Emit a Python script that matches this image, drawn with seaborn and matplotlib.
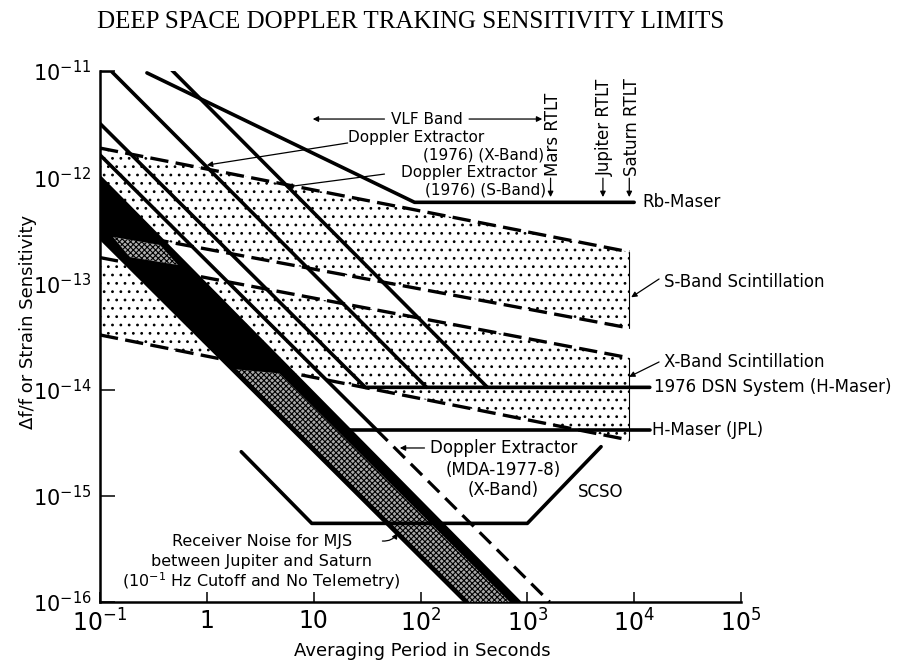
import matplotlib
matplotlib.use("Agg")
import matplotlib.pyplot as plt
import seaborn as sns

# ---- curves: averaging period tau (s) vs. fractional frequency sensitivity ----
rb_tau = [0.275, 88, 1.0e4]
rb_sens = [9.6e-12, 5.8e-13, 5.8e-13]

dex_x_tau = [0.1, 0.127, 114]
dex_x_sens = [1e-11, 1e-11, 1.05e-14]

dex_s_tau = [0.47, 423]
dex_s_sens = [1.02e-11, 1.05e-14]

dsn_tau = [0.1, 30.5, 1.4e4]
dsn_sens = [3.2e-12, 1.05e-14, 1.05e-14]

hmaser_tau = [21.5, 1.4e4]
hmaser_sens = [4.2e-15, 4.2e-15]

mda_tau = [0.1, 38.6, 1620]
mda_sens = [1.62e-12, 4.2e-15, 1e-16]

scso_tau = [2.1, 9.6, 1000, 4900]
scso_sens = [2.6e-15, 5.5e-16, 5.5e-16, 2.9e-15]

# scintillation bands
scint_tau = [0.1, 9.0e3]
sband_hi = [1.88e-12, 1.98e-13]
sband_lo = [3.24e-13, 3.8e-14]
xband_hi = [1.75e-13, 1.99e-14]
xband_lo = [3.27e-14, 3.35e-15]

# receiver noise band (MJS)
noise_hi_tau = [0.1, 842]
noise_hi_sens = [1e-12, 1e-16]
noise_lo_tau = [0.1, 269]
noise_lo_sens = [2.74e-13, 1e-16]
noise_grey_tau = [1.75, 269, 684, 4.8]
noise_grey_sens = [1.56e-14, 1e-16, 1e-16, 1.42e-14]
noise_patch_tau = [0.132, 0.364, 0.536, 0.19]
noise_patch_sens = [2.74e-13, 2.3e-13, 1.49e-13, 1.77e-13]

# round-trip light times
rtlt_names = ["Mars RTLT", "Jupiter RTLT", "Saturn RTLT"]
rtlt_tau = [1650, 5100, 9000]

xticks = [0.1, 1, 10, 1e2, 1e3, 1e4, 1e5]
xticklabels = ["$10^{-1}$", "1", "10", "$10^{2}$", "$10^{3}$", "$10^{4}$", "$10^{5}$"]
yticks = [1e-16, 1e-15, 1e-14, 1e-13, 1e-12, 1e-11]
yticklabels = ["$10^{-16}$", "$10^{-15}$", "$10^{-14}$", "$10^{-13}$", "$10^{-12}$", "$10^{-11}$"]

sns.set_theme(style="ticks")
plt.rcParams["font.family"] = ["DejaVu Sans"]
plt.rcParams["text.color"] = "black"
plt.rcParams["axes.labelcolor"] = "black"
plt.rcParams["hatch.linewidth"] = 0.8

fig = plt.figure(figsize=(9.16, 6.71), dpi=100)
ax = fig.add_axes([100 / 916, 1 - 602 / 671, 641 / 916, 531 / 671])
ax.set_xscale("log")
ax.set_yscale("log")
ax.set_xlim(0.1, 1e5)
ax.set_ylim(1e-16, 1e-11)

LW = 2.6


def curve(tau, sens, **kw):
    kw.setdefault("lw", LW)
    sns.lineplot(x=tau, y=sens, ax=ax, color="black", estimator=None,
                 sort=False, legend=False, **kw)


# dotted scintillation regions
for hi, lo in [(sband_hi, sband_lo), (xband_hi, xband_lo)]:
    ax.fill_between(scint_tau, lo, hi, facecolor="white", edgecolor="black",
                    hatch="..", linewidth=0, zorder=1)
    curve(scint_tau, hi, linestyle=(0, (5.5, 2.2)), lw=2.4, zorder=2)
    curve(scint_tau, lo, linestyle=(0, (5.5, 2.2)), lw=2.4, zorder=2)
    curve([scint_tau[1], scint_tau[1]], [hi[1], lo[1]], lw=0.8, zorder=2)

# receiver noise band
band_tau = noise_hi_tau + noise_lo_tau[::-1]
band_sens = noise_hi_sens + noise_lo_sens[::-1]
ax.fill(band_tau, band_sens, facecolor="black", edgecolor="none", zorder=3)
ax.fill(noise_grey_tau, noise_grey_sens, facecolor="#a8a8a8", edgecolor="black",
        hatch="xxxxxx", linewidth=0, zorder=3.1)
ax.fill(noise_patch_tau, noise_patch_sens, facecolor="#b0b0b0", edgecolor="black",
        hatch="xxxxxx", linewidth=0, zorder=3.1)
curve(noise_lo_tau, noise_lo_sens, lw=3.4, zorder=3.2)
curve(noise_hi_tau, noise_hi_sens, lw=2.5, zorder=3.2)

# solid limits
for tau, sens in [(rb_tau, rb_sens), (dex_x_tau, dex_x_sens),
                  (dex_s_tau, dex_s_sens), (dsn_tau, dsn_sens),
                  (hmaser_tau, hmaser_sens), (scso_tau, scso_sens)]:
    curve(tau, sens, zorder=4)
curve(mda_tau[:2], mda_sens[:2], zorder=4)
curve(mda_tau[1:], mda_sens[1:], linestyle=(0, (5, 2.6)), lw=2.3, zorder=4)

# axes styling
sns.despine(ax=ax)
for side in ("left", "bottom"):
    ax.spines[side].set_linewidth(1.8)
    ax.spines[side].set_color("black")
ax.set_xticks(xticks)
ax.set_xticklabels(xticklabels)
ax.set_yticks(yticks)
ax.set_yticklabels(yticklabels)
ax.minorticks_off()
ax.tick_params(axis="x", direction="in", length=7, width=1.1, labelsize=17,
               pad=5, colors="black")
ax.tick_params(axis="y", direction="in", length=11, width=1.1, labelsize=15,
               pad=6, colors="black")

TXT = dict(fontsize=12, color="black")
SMALL = dict(fontsize=11, color="black")
ARW = dict(arrowstyle="-|>", color="black", lw=0.9, mutation_scale=8,
           shrinkA=0, shrinkB=0)

# VLF band
ax.text(114, 3.53e-12, "VLF Band", ha="center", va="center", zorder=6, **SMALL)
ax.annotate("", xy=(9.8, 3.53e-12), xytext=(46, 3.53e-12), arrowprops=ARW)
ax.annotate("", xy=(1380, 3.53e-12), xytext=(285, 3.53e-12), arrowprops=ARW)

# Doppler extractor 1976 labels
ax.text(20.8, 2.39e-12, "Doppler Extractor", ha="left", va="center", **SMALL)
ax.text(1443, 1.62e-12, "(1976) (X-Band)", ha="right", va="center", **SMALL)
ax.text(1240, 1.11e-12, "Doppler Extractor", ha="right", va="center", **SMALL)
ax.text(1506, 7.58e-13, "(1976) (S-Band)", ha="right", va="center", **SMALL)
ax.annotate("", xy=(1.0, 1.3e-12), xytext=(20.8, 2.1e-12), arrowprops=ARW)
ax.annotate("", xy=(5.6, 8.1e-13), xytext=(46, 1.07e-12), arrowprops=ARW)

# RTLT markers
for name, tau in zip(rtlt_names, rtlt_tau):
    ax.text(tau * 1.05, 1.03e-12, name, rotation=90, ha="center", va="bottom",
            **TXT)
    ax.annotate("", xy=(tau, 6.5e-13), xytext=(tau, 9.8e-13), arrowprops=ARW)

# right-hand labels
ax.text(11900, 5.8e-13, "Rb-Maser", ha="left", va="center", **TXT)
ax.text(19000, 1.03e-13, "S-Band Scintillation", ha="left", va="center", **TXT)
ax.annotate("", xy=(9380, 7.4e-14), xytext=(17100, 1.1e-13), arrowprops=ARW)
ax.text(19000, 1.82e-14, "X-Band Scintillation", ha="left", va="center", **TXT)
ax.annotate("", xy=(8970, 1.32e-14), xytext=(17100, 1.82e-14), arrowprops=ARW)
ax.text(15400, 1.05e-14, "1976 DSN System (H-Maser)", ha="left", va="center", **TXT)
ax.text(14700, 4.2e-15, "H-Maser (JPL)", ha="left", va="center", **TXT)

# MDA extractor and SCSO
ax.text(600, 2.82e-15, "Doppler Extractor", ha="center", va="center", **TXT)
ax.text(600, 1.75e-15, "(MDA-1977-8)", ha="center", va="center", **TXT)
ax.text(600, 1.13e-15, "(X-Band)", ha="center", va="center", **TXT)
ax.annotate("", xy=(64, 2.82e-15), xytext=(109, 2.82e-15), arrowprops=ARW)
ax.text(4900, 1.09e-15, "SCSO", ha="center", va="center", **TXT)

# receiver noise label
NOISE = dict(fontsize=11.5, color="black", ha="center", va="center")
ax.text(3.27, 3.75e-16, "Receiver Noise for MJS", **NOISE)
ax.text(3.27, 2.43e-16, "between Jupiter and Saturn", **NOISE)
ax.text(3.27, 1.58e-16, "(10$^{-1}$ Hz Cutoff and No Telemetry)", **NOISE)
ax.annotate("", xy=(61, 4.47e-16), xytext=(44, 3.75e-16),
            arrowprops=dict(ARW, connectionstyle="arc3,rad=0.3"))

# titles
fig.text(411 / 916, 1 - 22 / 671, "DEEP SPACE DOPPLER TRAKING SENSITIVITY LIMITS",
         ha="center", va="center", fontsize=18, family="Liberation Serif")
fig.text(422 / 916, 1 - 651 / 671, "Averaging Period in Seconds", ha="center",
         va="center", fontsize=13)
fig.text(28 / 916, 1 - 322 / 671, "\u0394f/f or Strain Sensitivity", ha="center",
         va="center", rotation=90, fontsize=13)

fig.savefig("out.png", dpi=100, facecolor="white")
